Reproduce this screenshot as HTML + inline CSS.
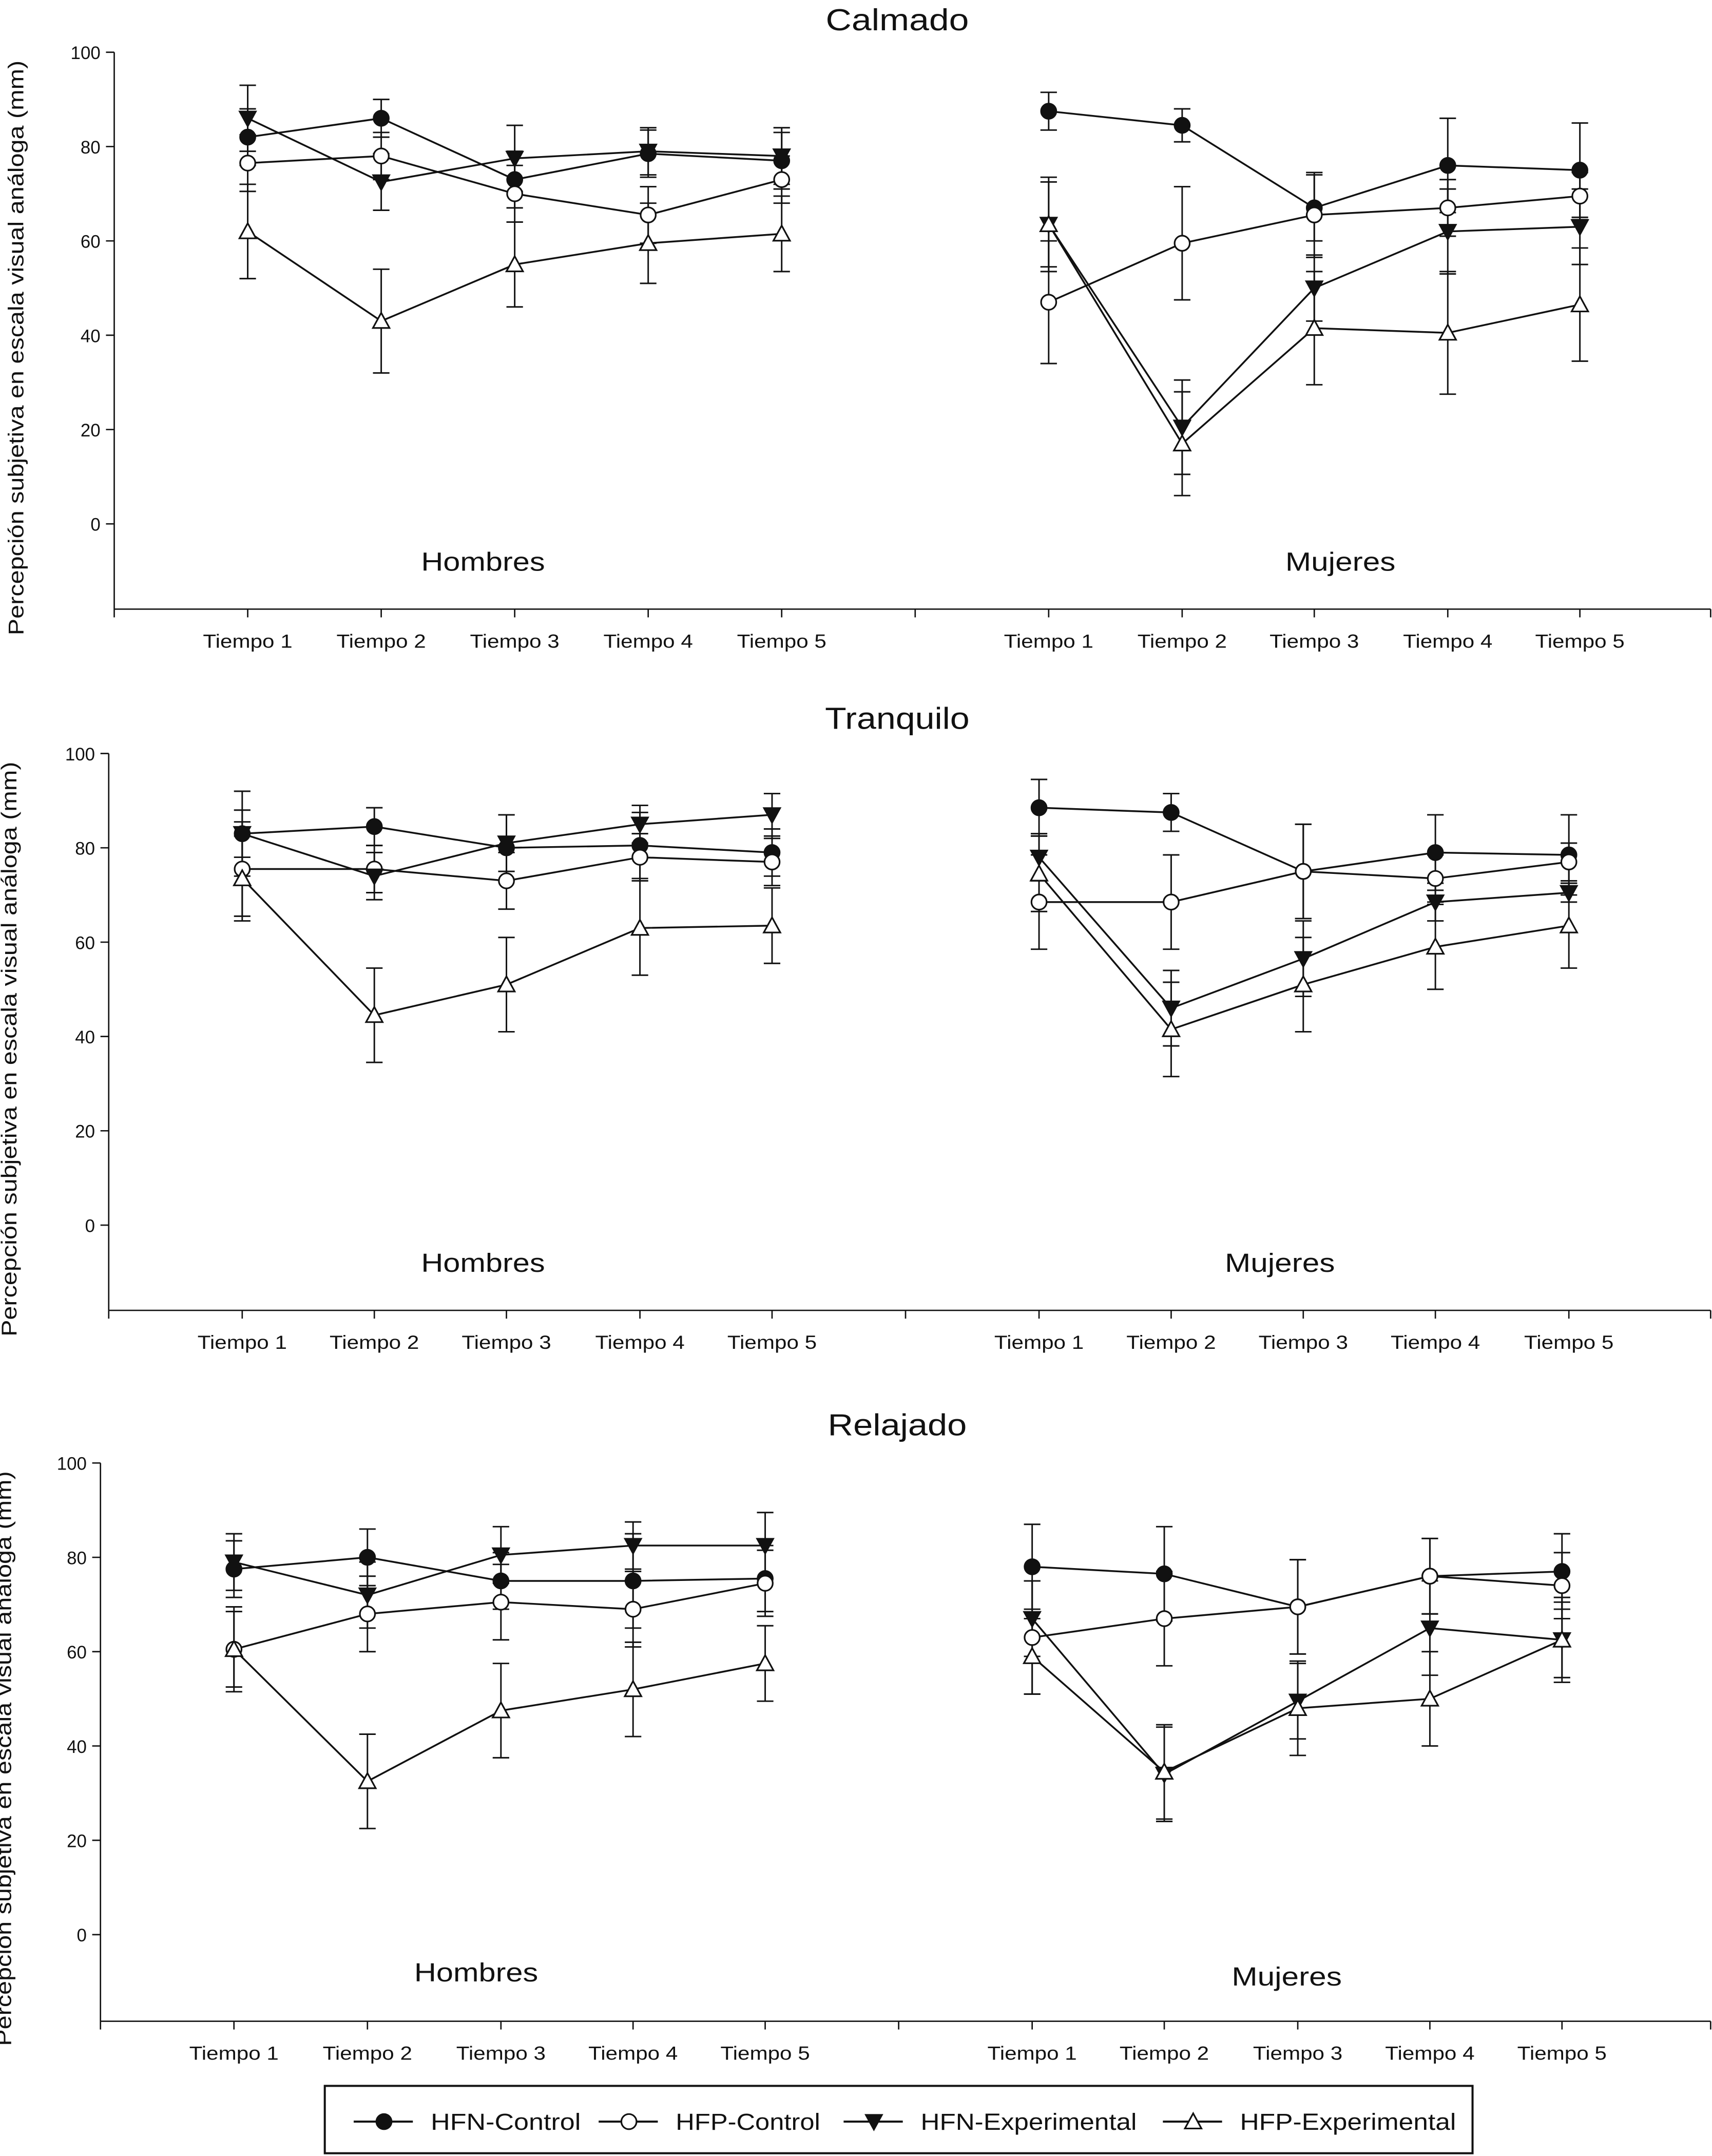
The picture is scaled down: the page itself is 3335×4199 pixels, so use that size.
<!DOCTYPE html>
<html><head><meta charset="utf-8"><style>
html,body{margin:0;padding:0;background:#fff}
svg{display:block}
text{font-family:"Liberation Sans",sans-serif;fill:#111}
</style></head><body>
<svg id="chart" width="3335" height="4199" viewBox="0 0 1244 1568" preserveAspectRatio="none" xmlns="http://www.w3.org/2000/svg"></svg>
<script>
const panelTitles = ["Calmado","Tranquilo","Relajado"];
const timeLabels = ["Tiempo 1","Tiempo 2","Tiempo 3","Tiempo 4","Tiempo 5"];
const yTicks = [0,20,40,60,80,100];
const seriesNames = ["HFN-Control","HFP-Control","HFN-Experimental","HFP-Experimental"];
const calmadoH = [[82,86,73,78.5,77],[76.5,78,70,65.5,73],[86,72.5,77.5,79,78],[62,43,55,59.5,61.5]];
const calmadoHErr = [[6,4,6,5,6],[6,5,6,6,5],[7,6,7,5,6],[10,11,9,8.5,8]];
const calmadoM = [[87.5,84.5,67,76,75],[47,59.5,65.5,67,69.5],[63.5,20.5,50,62,63],[63.5,17,41.5,40.5,46.5]];
const calmadoMErr = [[4,3.5,7,10,10],[13,12,9,6,5],[10,10,7,9,8],[9,11,12,13,12]];
const tranqH = [[83,84.5,80,80.5,79],[75.5,75.5,73,78,77],[83,74,81,85,87],[73.5,44.5,51,63,63.5]];
const tranqHErr = [[9,4,7,7,5],[10,5,6,5,5],[5,5,6,4,4.5],[9,10,10,10,8]];
const tranqM = [[88.5,87.5,75,79,78.5],[68.5,68.5,75,73.5,77],[78,46,56.5,68.5,70.5],[74.5,41.5,51,59,63.5]];
const tranqMErr = [[6,4,10,8,8.5],[10,10,10,5,4],[5,8,8,4,2],[8,10,10,9,9]];
const relajH = [[77.5,80,75,75,75.5],[60.5,68,70.5,69,74.5],[79,72,80.5,82.5,82.5],[60.5,32.5,47.5,52,57.5]];
const relajHErr = [[6,6,6,10,7],[8,8,8,8,7],[6,7,6,5,7],[9,10,10,10,8]];
const relajM = [[78,76.5,69.5,76,77],[63,67,69.5,76,74],[67,34,49.5,65,62.5],[59,34.5,48,50,62.5]];
const relajMErr = [[9,10,10,8,8],[12,10,10,8,7],[8,10,8,10,8],[8,10,10,10,9]];
const panelData = [[[calmadoH,calmadoHErr],[calmadoM,calmadoMErr]],[[tranqH,tranqHErr],[tranqM,tranqMErr]],[[relajH,relajHErr],[relajM,relajMErr]]];

const NS="http://www.w3.org/2000/svg";
const svg=document.getElementById('chart');
function mk(tag,attrs,parent,name){const e=document.createElementNS(NS,tag);for(const k in attrs)e.setAttribute(k,attrs[k]);


(parent||svg).appendChild(e);return e;}
const layouts=[
 {title:14,ax:83,y100:38,y0:381,bot:443,right:1243,hx:[180,277,374,471,568],mx:[762,859,955,1052,1148],mid:665,lab:466,hom:[351,408],muj:[974,408],yl:17,tw:104},
 {title:522,ax:79,y100:548,y0:891,bot:953,right:1243,hx:[176,272,368,465,561],mx:[755,851,947,1043,1140],mid:658,lab:976,hom:[351,918],muj:[930,918],yl:12,tw:105},
 {title:1036,ax:73,y100:1064,y0:1407,bot:1470,right:1243,hx:[170,267,364,460,556],mx:[750,846,943,1039,1135],mid:653,lab:1493,hom:[346,1434],muj:[935,1437],yl:8,tw:101}
];
function marker(g,s,x,y,name){
 const r=5.5;
 if(s===0) mk('circle',{cx:x,cy:y,r:r,fill:'#111',stroke:'#111','stroke-width':1.2},g,name);
 else if(s===1) mk('circle',{cx:x,cy:y,r:r,fill:'#fff',stroke:'#111','stroke-width':1.2},g,name);
 else if(s===2) mk('polygon',{points:`${x-6},${y-5} ${x+6},${y-5} ${x},${y+6}`,fill:'#111',stroke:'#111','stroke-width':1},g,name);
 else mk('polygon',{points:`${x-6},${y+5} ${x+6},${y+5} ${x},${y-6}`,fill:'#fff',stroke:'#111','stroke-width':1.2},g,name);
}
layouts.forEach((L,p)=>{
 const g=mk('g',{},svg,'panel-'+panelTitles[p].toLowerCase());
 const ys=v=>L.y0+(L.y100-L.y0)*v/100;
 const t=mk('text',{x:652,y:L.title+8,'text-anchor':'middle','font-size':22,textLength:L.tw,lengthAdjust:'spacingAndGlyphs'},g,'panel-title');t.textContent=panelTitles[p];
 mk('line',{x1:L.ax,y1:L.y100,x2:L.ax,y2:L.bot,stroke:'#111','stroke-width':1},g,'y-axis');
 mk('line',{x1:L.ax,y1:L.bot,x2:L.right,y2:L.bot,stroke:'#111','stroke-width':1},g,'x-axis');
 yTicks.forEach(v=>{const y=ys(v);mk('line',{x1:L.ax-6,y1:y,x2:L.ax,y2:y,stroke:'#111'},g,'y-tick');
  const tt=mk('text',{x:L.ax-10,y:y+5,'text-anchor':'end','font-size':13},g,'y-tick-label');tt.textContent=v;});
 const cy=L.y100+215;
 const yl=mk('text',{x:L.yl,y:cy,'text-anchor':'middle','font-size':15.5,textLength:418,lengthAdjust:'spacingAndGlyphs',transform:`rotate(-90 ${L.yl} ${cy})`},g,'y-axis-title');
 yl.textContent="Percepción subjetiva en escala visual análoga (mm)";
 [L.ax,L.mid,L.right].forEach(x=>mk('line',{x1:x,y1:L.bot,x2:x,y2:L.bot+6,stroke:'#111'},g,'x-tick'));
 [L.hx,L.mx].forEach((xs,gi)=>{
  xs.forEach((x,i)=>{mk('line',{x1:x,y1:L.bot,x2:x,y2:L.bot+6,stroke:'#111'},g,'x-tick');
   const tl=mk('text',{x:x,y:L.lab+5,'text-anchor':'middle','font-size':14,textLength:65,lengthAdjust:'spacingAndGlyphs'},g,'x-tick-label');tl.textContent=timeLabels[i];});
  const [vals,errs]=panelData[p][gi];
  vals.forEach((series,s)=>{
   series.forEach((v,i)=>{const x=xs[i];const e=errs[s][i];
    mk('line',{x1:x,y1:ys(v+e),x2:x,y2:ys(v-e),stroke:'#111','stroke-width':1.1},g,'error-bar');
    [v+e,v-e].forEach(c=>mk('line',{x1:x-6,y1:ys(c),x2:x+6,y2:ys(c),stroke:'#111','stroke-width':1.1},g,'error-cap'));});
   const pts=series.map((v,i)=>xs[i]+','+ys(v)).join(' ');
   mk('polyline',{points:pts,fill:'none',stroke:'#111','stroke-width':1.3},g,'line-'+seriesNames[s].toLowerCase());
  });
  vals.forEach((series,s)=>series.forEach((v,i)=>marker(g,s,xs[i],ys(v),'point-'+seriesNames[s].toLowerCase())));
 });
 const h=mk('text',{x:L.hom[0],y:L.hom[1]+7,'text-anchor':'middle','font-size':19,textLength:90,lengthAdjust:'spacingAndGlyphs'},g,'group-label-hombres');h.textContent="Hombres";
 const m=mk('text',{x:L.muj[0],y:L.muj[1]+7,'text-anchor':'middle','font-size':19,textLength:80,lengthAdjust:'spacingAndGlyphs'},g,'group-label-mujeres');m.textContent="Mujeres";
});
const lg=mk('g',{},svg,'legend');
mk('rect',{x:236,y:1517,width:834,height:49,fill:'#fff',stroke:'#111','stroke-width':1.5},lg,'legend-box');
const lx=[257,435,613,845];
const lw=[109,105,157,157];
seriesNames.forEach((n,s)=>{const x=lx[s];
 mk('line',{x1:x,y1:1543,x2:x+43,y2:1543,stroke:'#111','stroke-width':1.5},lg,'legend-line');
 marker(lg,s,x+22,1543,'legend-marker');
 const t=mk('text',{x:x+56,y:1549,'font-size':17,textLength:lw[s],lengthAdjust:'spacingAndGlyphs'},lg,'legend-entry');t.textContent=n;});
</script>
</body></html>
